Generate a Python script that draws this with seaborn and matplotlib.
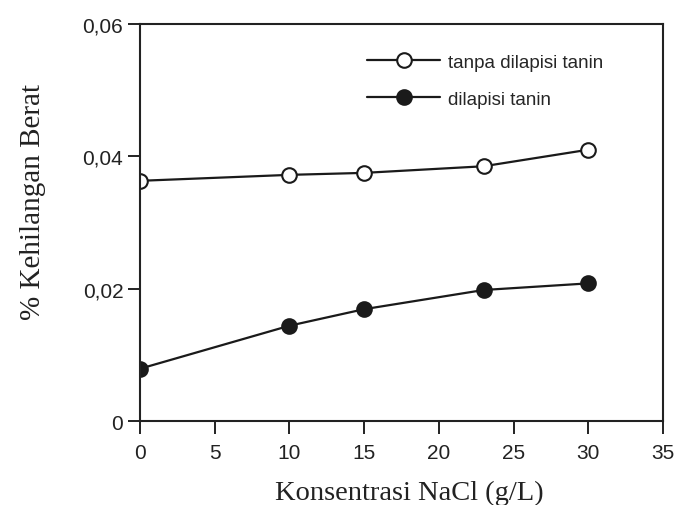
import pandas as pd
import matplotlib
matplotlib.use("Agg")
import matplotlib.pyplot as plt
import seaborn as sns

# NaCl concentration (g/L)
konsentrasi = [0, 10, 15, 23, 30]
# weight loss (%)
tanpa_tanin = [0.0363, 0.0372, 0.0375, 0.0385, 0.0410]
dengan_tanin = [0.0079, 0.0144, 0.0169, 0.0198, 0.0208]

series_names = ["tanpa dilapisi tanin", "dilapisi tanin"]
x_ticks = [0, 5, 10, 15, 20, 25, 30, 35]
y_ticks = [0, 0.02, 0.04, 0.06]
y_ticklabels = ["0", "0,02", "0,04", "0,06"]

df = pd.DataFrame({
    "x": konsentrasi * 2,
    "y": tanpa_tanin + dengan_tanin,
    "seri": [series_names[0]] * 5 + [series_names[1]] * 5,
})

sns.set_style("ticks")
plt.rcParams["font.family"] = ["Liberation Sans", "DejaVu Sans"]

fig = plt.figure(figsize=(6.77, 5.06), dpi=100)
ax = fig.add_axes([0.2068, 0.166, 0.7725, 0.7846])

face = {series_names[0]: "white", series_names[1]: "#1a1a1a"}
for name in series_names:
    sub = df[df["seri"] == name]
    sns.lineplot(
        data=sub, x="x", y="y", ax=ax, color="#1a1a1a", linewidth=1.6,
        marker="o", markersize=10.5, markerfacecolor=face[name],
        markeredgecolor="#1a1a1a", markeredgewidth=1.5, label=name,
    )

ax.set_xlim(0, 35)
ax.set_ylim(0, 0.06)
ax.set_xticks(x_ticks)
ax.set_yticks(y_ticks)
ax.set_yticklabels(y_ticklabels)
ax.tick_params(axis="both", direction="out", length=9, width=1.4,
               labelsize=15, colors="#222222")
ax.tick_params(axis="x", pad=7)
ax.tick_params(axis="y", pad=3)
for sp in ax.spines.values():
    sp.set_linewidth(1.5)
    sp.set_color("#222222")
    sp.set_visible(True)

ax.set_xlabel("Konsentrasi NaCl (g/L)", family="Liberation Serif",
              fontsize=20.5, color="#222222")
ax.set_ylabel("% Kehilangan Berat", family="Liberation Serif",
              fontsize=21, color="#222222")
ax.xaxis.set_label_coords(0.514, -0.148)
ax.yaxis.set_label_coords(-0.18, 0.554)

leg = ax.legend(loc="upper left", bbox_to_anchor=(0.434, 0.925), frameon=False,
                fontsize=13.5, handlelength=3.9, labelspacing=1.05,
                handletextpad=0.43, borderpad=0, borderaxespad=0)

fig.savefig("out.png", dpi=100)
